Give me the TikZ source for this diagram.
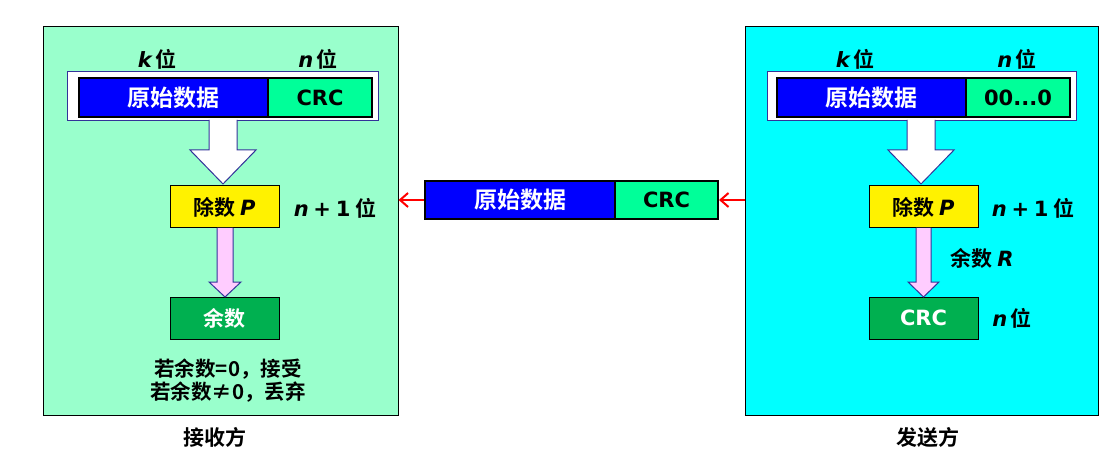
\documentclass[tikz,border=0pt]{standalone}
\usepackage{fontspec}
\setmainfont{Noto Sans CJK SC}[BoldFont={Noto Sans CJK SC Bold}]
\newfontfamily\latin{DejaVu Sans}
\usetikzlibrary{arrows.meta}

\definecolor{mint}{HTML}{99FFCC}
\definecolor{aqua}{HTML}{00FFFF}
\definecolor{datablue}{HTML}{0000FF}
\definecolor{crcgreen}{HTML}{00FF99}
\definecolor{remgreen}{HTML}{00B050}
\definecolor{pinkfill}{HTML}{FFCCFF}
\definecolor{navy}{HTML}{333399}

\newcommand{\var}[1]{{\latin\bfseries\itshape #1}}

\tikzset{
  panel/.style={draw=black,line width=1pt,rectangle},
  frame/.style={draw=navy,fill=white,line width=1pt,minimum height=49pt},
  field/.style={draw=black,line width=2pt,minimum height=39pt,inner sep=0pt},
  stepbox/.style={draw=black,line width=1pt,minimum width=109pt,minimum height=42pt},
  label/.style={font=\fontsize{21}{25}\selectfont\bfseries,inner sep=0pt},
  bigtext/.style={font=\fontsize{23}{26}\selectfont\bfseries},
  crctext/.style={font=\fontsize{21}{24}\selectfont\latin\bfseries},
  blockarrow/.style={draw=navy,line width=1pt,line join=miter},
  sendarrow/.style={draw=red,line width=2pt,-{Straight Barb[length=8pt,width=14pt]}}
}

\begin{document}
\begin{tikzpicture}[x=1pt,y=-1pt]

  \useasboundingbox (0,0) rectangle (1119,465);

  % the two sides
  \node[panel,fill=mint,minimum width=355pt,minimum height=388pt] (recv) at (220.5,221) {};
  \node[panel,fill=aqua,minimum width=353pt,minimum height=388pt] (send) at (921.5,221) {};

  \begin{scope}[every node/.style={label}]

    % receiver
    \node[frame,minimum width=311pt] (lframe) at (222.5,96.5) {};
    \node[field,fill=datablue,text=white,minimum width=189pt,bigtext] (ldata) at (173.5,97.5) {原始数据};
    \node[field,fill=crcgreen,minimum width=104pt,crctext] (lcrc) at (320,97.5) {CRC};
    \node (lk) at (157,59) {\var{k}\,位};
    \node (ln) at (318,59) {\var{n}\,位};
    \node[stepbox,fill=yellow] (ldiv) at (224.5,207) {除数 \var{P}};
    \node (lbits) at (335,208) {\var{n} {\latin\bfseries +} {\latin\bfseries 1} 位};
    \node[stepbox,fill=remgreen,text=white] (lrem) at (224.5,318) {余数};
    \node[align=center,font=\fontsize{20.5}{23}\selectfont\bfseries] (lnote) at (228,381) {若余数=0，接受\\若余数≠0，丢弃};
    \node (lname) at (215,437) {接收方};

    % sender
    \node[frame,minimum width=309pt] (rframe) at (921.5,96.5) {};
    \node[field,fill=datablue,text=white,minimum width=189pt,bigtext] (rdata) at (871.5,97.5) {原始数据};
    \node[field,fill=crcgreen,minimum width=104pt,crctext] (rzero) at (1018,97.5) {00...0};
    \node (rk) at (855,59) {\var{k}\,位};
    \node (rn) at (1017,59) {\var{n}\,位};
    \node[stepbox,fill=yellow] (rdiv) at (923.5,207) {除数 \var{P}};
    \node (rbits) at (1033,208) {\var{n} {\latin\bfseries +} {\latin\bfseries 1} 位};
    \node (rrem) at (982,258) {余数 \var{R}};
    \node[stepbox,fill=remgreen,text=white,crctext] (rcrc) at (923.5,318) {CRC};
    \node (rn2) at (1012,318) {\var{n}\,位};
    \node (sname) at (928,437) {发送方};

    % frame on the line
    \node[field,fill=datablue,text=white,minimum width=190pt,minimum height=38pt,bigtext] (mdata) at (520,200) {原始数据};
    \node[field,fill=crcgreen,minimum width=103pt,minimum height=38pt,crctext] (mcrc) at (666.5,200) {CRC};
  \end{scope}

  % block arrows
  \filldraw[blockarrow,fill=white] (209,120) -- (209,150) -- (190,150) -- (223,184) -- (256,150) -- (237,150) -- (237,120);
  \filldraw[blockarrow,fill=white] (907,120) -- (907,150) -- (888,150) -- (921,184) -- (954,150) -- (935,150) -- (935,120);
  \filldraw[blockarrow,fill=pinkfill] (217,228) -- (217,282) -- (209,282) -- (225,297) -- (241,282) -- (233,282) -- (233,228);
  \filldraw[blockarrow,fill=pinkfill] (916,228) -- (916,282) -- (908,282) -- (923.5,297) -- (939,282) -- (931,282) -- (931,228);

  % sending
  \draw[sendarrow] (send.west |- mcrc.east) -- (mcrc.east);
  \draw[sendarrow] (mdata.west) -- (recv.east |- mdata.west);

\end{tikzpicture}
\end{document}
